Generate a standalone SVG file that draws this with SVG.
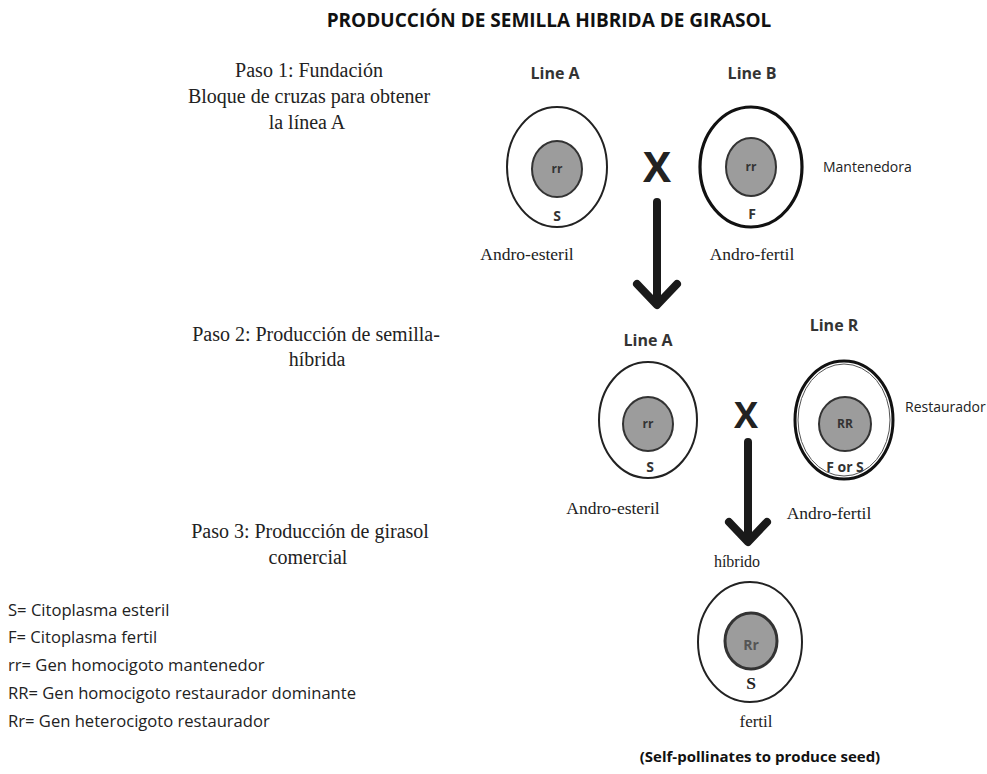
<svg xmlns="http://www.w3.org/2000/svg" width="987" height="774" viewBox="0 0 987 774">
<style>
.title{font-family:"Open Sans","Liberation Sans",sans-serif;font-weight:bold;font-size:19px;fill:#111}
.step{font-family:"Liberation Serif","DejaVu Serif",serif;font-size:20px;fill:#222}
.lbl{font-family:"Liberation Serif","DejaVu Serif",serif;font-size:17.5px;fill:#222}
.line{font-family:"Open Sans","Liberation Sans",sans-serif;font-weight:bold;font-size:16px;fill:#333}
.side{font-family:"Open Sans","Liberation Sans",sans-serif;font-size:14px;fill:#222}
.leg{font-family:"Open Sans","Liberation Sans",sans-serif;font-size:16.6px;fill:#222}
.gene{font-family:"Open Sans","Liberation Sans",sans-serif;font-weight:bold;font-size:12px;fill:#333}
.cyto{font-family:"Open Sans","Liberation Sans",sans-serif;font-weight:bold;font-size:14px;fill:#333}
.outer{fill:#fff;stroke:#222;stroke-width:2}
.outerB{fill:#fff;stroke:#111;stroke-width:3.2}
.inner{fill:#9c9c9c;stroke:#333;stroke-width:2}
.cross{font-family:"Open Sans","Liberation Sans",sans-serif;font-weight:bold;fill:#222}
.arrow{fill:none;stroke:#1a1a1a;stroke-width:8;stroke-linecap:round;stroke-linejoin:round}
</style>
<rect width="987" height="774" fill="#fff"/>
<text class="title" x="549" y="27" text-anchor="middle">PRODUCCIÓN DE SEMILLA HIBRIDA DE GIRASOL</text>

<g id="steps">
<text class="step" x="309" y="77" text-anchor="middle">Paso 1: Fundación</text>
<text class="step" x="309" y="103" text-anchor="middle">Bloque de cruzas para obtener</text>
<text class="step" x="307" y="129" text-anchor="middle">la línea A</text>
<text class="step" x="316" y="341" text-anchor="middle">Paso 2: Producción de semilla-</text>
<text class="step" x="317" y="366" text-anchor="middle">híbrida</text>
<text class="step" x="310" y="538" text-anchor="middle">Paso 3: Producción de girasol</text>
<text class="step" x="308" y="564" text-anchor="middle">comercial</text>
</g>

<g id="legend">
<text class="leg" x="8" y="616">S= Citoplasma esteril</text>
<text class="leg" x="8" y="643">F= Citoplasma fertil</text>
<text class="leg" x="8" y="671">rr= Gen homocigoto mantenedor</text>
<text class="leg" x="8" y="699">RR= Gen homocigoto restaurador dominante</text>
<text class="leg" x="8" y="727">Rr= Gen heterocigoto restaurador</text>
</g>

<g id="lineA1">
<text class="line" x="555" y="79" text-anchor="middle">Line A</text>
<ellipse class="outer" cx="557" cy="167" rx="50" ry="60"/>
<ellipse class="inner" cx="557" cy="169" rx="25" ry="28"/>
<text class="gene" x="557" y="173" text-anchor="middle">rr</text>
<text class="cyto" x="557" y="221" text-anchor="middle">S</text>
<text class="lbl" x="527" y="260" text-anchor="middle">Andro-esteril</text>
</g>

<g id="lineB">
<text class="line" x="752" y="79" text-anchor="middle">Line B</text>
<ellipse class="outerB" cx="751" cy="167" rx="51" ry="60"/>
<ellipse class="inner" cx="751" cy="167" rx="25" ry="29"/>
<text class="gene" x="751" y="171" text-anchor="middle">rr</text>
<text class="cyto" x="752" y="219" text-anchor="middle">F</text>
<text class="lbl" x="752" y="260" text-anchor="middle">Andro-fertil</text>
<text class="side" x="823" y="172">Mantenedora</text>
</g>

<g id="lineA2">
<text class="line" x="648" y="346" text-anchor="middle">Line A</text>
<ellipse class="outer" cx="648" cy="420" rx="49" ry="58"/>
<ellipse class="inner" cx="648" cy="424" rx="25" ry="27"/>
<text class="gene" x="648" y="428" text-anchor="middle">rr</text>
<text class="cyto" x="650" y="472" text-anchor="middle">S</text>
<text class="lbl" x="613" y="514" text-anchor="middle">Andro-esteril</text>
</g>

<g id="lineR">
<text class="line" x="834" y="331" text-anchor="middle">Line R</text>
<ellipse cx="844" cy="420" rx="49" ry="59" fill="#fff" stroke="#111" stroke-width="3"/>
<ellipse cx="844" cy="420" rx="46" ry="56" fill="none" stroke="#555" stroke-width="1"/>
<ellipse class="inner" cx="845" cy="424" rx="26" ry="27"/>
<text class="gene" x="845" y="428" text-anchor="middle">RR</text>
<text class="cyto" x="845" y="472" text-anchor="middle">F or S</text>
<text class="lbl" x="829" y="519" text-anchor="middle">Andro-fertil</text>
<text class="side" x="905" y="412">Restaurador</text>
</g>

<g id="hybrid">
<text class="lbl" x="737" y="567" text-anchor="middle" style="font-size:16px">híbrido</text>
<ellipse class="outer" cx="750" cy="642" rx="52" ry="60"/>
<ellipse cx="751" cy="641" rx="26" ry="28" fill="#9c9c9c" stroke="#333" stroke-width="3"/>
<text class="gene" x="751" y="650" text-anchor="middle" style="font-size:14px;fill:#555">Rr</text>
<text class="lbl" x="751" y="689" text-anchor="middle" style="font-weight:bold">S</text>
<text class="lbl" x="756" y="727" text-anchor="middle" style="font-size:17px">fertil</text>
<text class="title" x="760" y="762" text-anchor="middle" style="font-size:15px">(Self-pollinates to produce seed)</text>
</g>

<g id="connectors">
<text class="cross" x="657" y="182" text-anchor="middle" style="font-size:42px">X</text>
<path class="arrow" d="M657 202 V304 M637 284 L657 305 L677 284"/>
<text class="cross" x="746" y="428" text-anchor="middle" style="font-size:36px">X</text>
<path class="arrow" d="M748 442 V541 M729 522 L748 542 L767 522"/>
</g>
</svg>
